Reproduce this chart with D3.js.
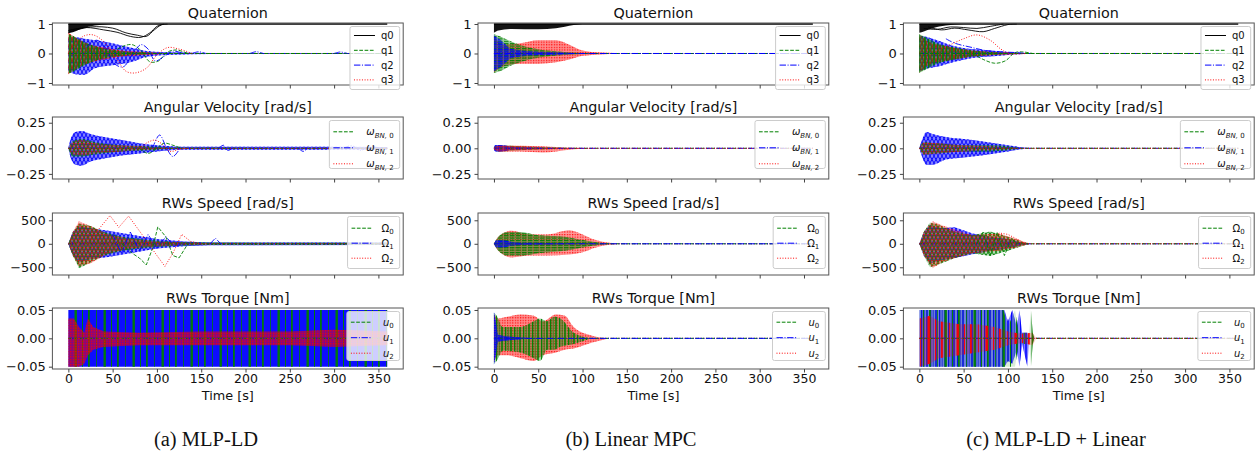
<!DOCTYPE html>
<html lang="en">
<head>
<meta charset="UTF-8">
<title>Trajectories: MLP-LD / Linear MPC / MLP-LD + Linear</title>
<script src="https://cdn.jsdelivr.net/npm/d3@7/dist/d3.min.js"></script>
<style>
  body { margin: 0; background: #fff; }
  text { font-family: "DejaVu Sans", sans-serif; fill: #111; }
</style>
</head>
<body>
<svg width="1258" height="453"></svg>
<script>
// ---------- labels ----------
const captions = ['(a) MLP-LD', '(b) Linear MPC', '(c) MLP-LD + Linear'];
const panelTitles = ['Quaternion', 'Angular Velocity [rad/s]', 'RWs Speed [rad/s]', 'RWs Torque [Nm]'];
const timeTicks = [0, 50, 100, 150, 200, 250, 300, 350];
const yTicks = [[-1, 0, 1], [-0.25, 0, 0.25], [-500, 0, 500], [-0.05, 0, 0.05]];
const tEnd = 360;

// ---------- envelopes: [t, upper, lower] ----------
// (a) MLP-LD
const quatA_q0 = [[0,1,0.68],[5,1,0.72],[15,1,0.84],[30,1,0.95],[45,1,0.99],[60,1,1]];
const quatA_q1 = [[0,0.65,-0.68],[5,0.6,-0.62],[15,0.42,-0.45],[30,0.25,-0.25],[50,0.12,-0.12],[70,0.05,-0.05],[100,0.02,-0.02],[130,0,0]];
const quatA_q2 = [[0,0.55,-0.6],[8,0.55,-0.7],[18,0.5,-0.72],[30,0.45,-0.5],[50,0.35,-0.4],[70,0.2,-0.3],[90,0.08,-0.1],[120,0.04,-0.04],[160,0.02,-0.02],[360,0.01,-0.01]];
const quatA_q3 = [[0,0.7,-0.7],[10,0.5,-0.5],[20,0.35,-0.35],[40,0.2,-0.2],[60,0.1,-0.1],[90,0.04,-0.04],[120,0,0]];
const omegaA_0 = [[0,0,0],[5,0.07,-0.08],[15,0.09,-0.08],[30,0.06,-0.06],[60,0.03,-0.03],[90,0.02,-0.02],[120,0.005,-0.005],[360,0.003,-0.003]];
const omegaA_1 = [[0,0,0],[3,0.1,-0.1],[8,0.16,-0.16],[15,0.17,-0.17],[25,0.14,-0.13],[40,0.11,-0.1],[60,0.08,-0.07],[80,0.05,-0.05],[100,0.03,-0.03],[130,0.015,-0.015],[200,0.015,-0.015],[360,0.012,-0.012]];
const omegaA_2 = [[0,0,0],[5,0.06,-0.06],[15,0.08,-0.07],[30,0.05,-0.05],[60,0.03,-0.03],[90,0.015,-0.015],[120,0,0]];
const speedA_0 = [[0,0,0],[5,250,-250],[12,430,-520],[25,380,-400],[40,250,-250],[60,150,-150],[90,80,-80],[120,40,-40],[150,25,-25],[360,20,-20]];
const speedA_1 = [[0,0,0],[5,250,-250],[12,380,-400],[25,330,-330],[45,280,-280],[70,200,-200],[100,100,-100],[130,50,-50],[160,30,-30],[360,25,-25]];
const speedA_2 = [[0,0,0],[5,250,-250],[12,480,-470],[25,380,-420],[45,200,-200],[70,100,-100],[100,50,-50],[130,20,-20],[180,0,0]];
const torqueA_0 = [[0,0.05,-0.05],[360,0.05,-0.05]];
const torqueA_1 = [[0,0.05,-0.05],[360,0.05,-0.05]];
const torqueA_2 = [[0,0.035,-0.05],[6,0.035,-0.05],[12,0.02,-0.05],[18,0.01,-0.045],[22,0.035,-0.03],[28,0.02,-0.02],[40,0.012,-0.015],[80,0.01,-0.012],[150,0.012,-0.012],[250,0.012,-0.012],[300,0.015,-0.015],[360,0.012,-0.012]];

// (b) Linear MPC
const quatB_q0 = [[0,1,0.7],[5,1,0.78],[20,1,0.83],[50,1,0.82],[70,1,0.86],[90,1,0.97],[100,1,1]];
const quatB_q1 = [[0,0.65,-0.65],[5,0.6,-0.62],[20,0.4,-0.4],[40,0.2,-0.2],[60,0.1,-0.1],[80,0.05,-0.05],[100,0.02,-0.02],[125,0,0]];
const quatB_q2 = [[0,0.62,-0.6],[8,0.45,-0.45],[20,0.15,-0.15],[40,0.08,-0.08],[60,0.05,-0.05],[90,0.02,-0.02],[120,0,0]];
const quatB_q3 = [[0,0.6,-0.65],[10,0.3,-0.45],[30,0.35,-0.35],[50,0.45,-0.35],[70,0.45,-0.3],[85,0.3,-0.2],[100,0.1,-0.08],[120,0.03,-0.03],[150,0,0]];
const omegaB_0 = [[0,0.01,-0.01],[3,0.03,-0.03],[20,0.025,-0.025],[40,0.015,-0.015],[60,0.01,-0.01],[90,0,0]];
const omegaB_1 = [[0,0.015,-0.015],[2,0.033,-0.033],[10,0.03,-0.03],[20,0.015,-0.015],[40,0.008,-0.008],[80,0,0]];
const omegaB_2 = [[0,0.01,-0.01],[5,0.025,-0.03],[30,0.025,-0.03],[55,0.02,-0.04],[70,0.012,-0.03],[90,0.005,-0.01],[110,0,0]];
const speedB_0 = [[0,0,0],[5,150,-150],[15,250,-250],[30,250,-250],[50,180,-200],[80,150,-150],[100,80,-80],[120,20,-20],[140,0,0]];
const speedB_1 = [[0,0,0],[3,80,-80],[10,80,-80],[20,40,-40],[40,20,-20],[80,10,-10],[120,0,0]];
const speedB_2 = [[0,0,0],[5,150,-150],[20,280,-290],[40,200,-250],[60,200,-250],[85,290,-230],[100,200,-180],[115,80,-80],[130,20,-20],[150,0,0]];
const torqueB_0 = [[0,0.045,-0.045],[3,0.04,-0.04],[10,0.02,-0.022],[30,0.02,-0.025],[45,0.03,-0.035],[52,0.035,-0.04],[60,0.03,-0.02],[68,0.038,-0.02],[75,0.035,-0.015],[90,0.01,-0.01],[110,0,0]];
const torqueB_1 = [[0,0.047,-0.047],[2,0.03,-0.03],[5,0.006,-0.006],[20,0.003,-0.003],[60,0,0]];
const torqueB_2 = [[0,0.042,-0.042],[5,0.035,-0.03],[15,0.038,-0.03],[30,0.042,-0.035],[45,0.04,-0.04],[55,0.03,-0.03],[70,0.042,-0.025],[80,0.04,-0.02],[90,0.02,-0.018],[110,0.005,-0.008],[130,0,0]];

// (c) MLP-LD + Linear
const quatC_q0 = [[0,1,0.7],[5,1,0.75],[15,1,0.86],[30,1,0.95],[50,1,1]];
const quatC_q1 = [[0,0.65,-0.65],[10,0.5,-0.5],[20,0.35,-0.35],[40,0.2,-0.2],[60,0.1,-0.1],[80,0.05,-0.05],[100,0.02,-0.02],[120,0,0]];
const quatC_q2 = [[0,0.6,-0.6],[10,0.55,-0.5],[20,0.45,-0.45],[40,0.25,-0.28],[60,0.15,-0.15],[80,0.1,-0.1],[100,0.05,-0.05],[125,0,0]];
const quatC_q3 = [[0,0.65,-0.65],[10,0.4,-0.4],[30,0.25,-0.25],[60,0.1,-0.1],[100,0.03,-0.03],[130,0,0]];
const omegaC_0 = [[0,0,0],[5,0.06,-0.06],[20,0.05,-0.05],[50,0.03,-0.03],[80,0.03,-0.03],[100,0.02,-0.02],[115,0,0]];
const omegaC_1 = [[0,0,0],[3,0.08,-0.08],[8,0.16,-0.16],[15,0.14,-0.16],[30,0.11,-0.11],[50,0.09,-0.09],[70,0.07,-0.07],[85,0.05,-0.05],[100,0.03,-0.03],[115,0.01,-0.01],[125,0,0]];
const omegaC_2 = [[0,0,0],[5,0.06,-0.06],[20,0.05,-0.05],[50,0.03,-0.03],[80,0.02,-0.02],[100,0.01,-0.01],[115,0,0]];
const speedC_0 = [[0,0,0],[5,250,-250],[12,450,-500],[20,420,-450],[40,250,-300],[60,180,-200],[80,260,-260],[100,150,-150],[115,50,-50],[125,0,0]];
const speedC_1 = [[0,0,0],[5,250,-250],[12,400,-420],[25,330,-350],[40,350,-300],[60,220,-220],[80,150,-150],[100,100,-100],[115,30,-30],[125,0,0]];
const speedC_2 = [[0,0,0],[5,250,-250],[15,480,-520],[25,400,-400],[40,300,-300],[60,180,-200],[90,220,-150],[110,100,-80],[125,0,0]];
const torqueC_0 = [[0,0.05,-0.05],[95,0.05,-0.05],[100,0.02,-0.05],[108,0.05,-0.05],[112,0.01,-0.01],[124,0.01,-0.01],[126,0.05,-0.05],[128,0.01,-0.01],[130,0,0]];
const torqueC_1 = [[0,0.05,-0.05],[96,0.05,-0.05],[100,0.03,-0.04],[105,0.05,-0.045],[110,0.02,-0.02],[113,0.05,-0.05],[116,0.01,-0.01],[122,0.01,-0.05],[124,0,0]];
const torqueC_2 = [[0,0.035,-0.05],[12,0.04,-0.045],[22,0.03,-0.035],[45,0.025,-0.03],[65,0.025,-0.025],[85,0.02,-0.02],[100,0.012,-0.012],[115,0.008,-0.008],[128,0.01,-0.012],[132,0,0]];

// ---------- single stand-out trajectories: [t, value] ----------
const quatA_q0_runs = [
  [[0,0.78],[20,0.88],[40,0.8],[55,0.72],[70,0.58],[82,0.55],[92,0.7],[100,0.92],[108,1]],
  [[0,0.72],[25,0.9],[50,0.86],[65,0.7],[78,0.62],[88,0.58],[97,0.8],[105,0.97],[112,1]]];
const quatA_q1_runs = [[[50,0.05],[62,0.25],[72,0.3],[82,0.1],[92,-0.28],[102,-0.25],[112,0.05],[122,0.12],[135,0]]];
const quatA_q2_runs = [
  [[20,0.2],[32,0.45],[42,0.2],[52,-0.35],[62,-0.45],[72,-0.05],[82,0.3],[90,0.15],[98,-0.25],[108,-0.1],[118,0.08],[130,0]],
  [[140,0],[147,0.06],[155,0]], [[205,0],[212,0.06],[220,0]], [[300,0],[307,0.05],[315,0]]];
const quatA_q3_runs = [[[0,0],[8,0.35],[18,0.6],[28,0.63],[40,0.4],[55,-0.2],[65,-0.6],[75,-0.66],[88,-0.5],[100,-0.05],[112,0.2],[125,0.15],[140,0]]];
const omegaA_0_runs = [[[80,0],[90,-0.05],[100,0],[108,0.05],[118,0.03],[128,0]]];
const omegaA_1_runs = [[[95,0],[103,0.13],[111,0],[118,-0.08],[126,0]], [[170,0],[175,0.03],[180,-0.02],[185,0]], [[260,0],[265,-0.03],[270,0]], [[310,0],[320,0.025],[330,-0.02],[340,0.02],[350,0]]];
const omegaA_2_runs = [[[80,0],[90,0.06],[98,0.08],[106,0.04],[115,-0.03],[125,-0.01],[135,0]]];
const speedA_0_runs = [[[60,0],[72,-200],[80,-300],[88,-450],[95,-100],[101,360],[110,150],[118,-250],[125,-300],[135,0]]];
const speedA_1_runs = [[[50,200],[60,-200],[70,250],[80,-150],[90,200],[100,-100],[110,150],[120,-50],[130,0]], [[160,0],[166,120],[172,0]]];
const speedA_2_runs = [[[25,100],[47,600],[57,350],[68,590],[85,150],[100,-250],[109,-480],[118,-200],[128,200],[138,50],[150,0]]];
const quatC_q0_runs = [[[10,0.9],[25,0.8],[40,0.86],[55,0.8],[72,0.74],[85,0.85],[100,0.98],[110,1]], [[5,0.85],[20,0.82],[35,0.9],[50,0.88],[65,0.85],[80,0.92],[95,1]]];
const quatC_q1_runs = [[[60,0],[72,-0.2],[85,-0.33],[97,-0.25],[108,0.03],[118,0.05],[128,0]]];
const quatC_q2_runs = [[[30,0.5],[40,0.35],[60,0.2],[75,0.1],[95,0.05],[110,0.03],[120,0]]];
const quatC_q3_runs = [[[20,0.1],[35,0.3],[50,0.5],[65,0.63],[80,0.45],[92,0.15],[102,0],[120,0]]];
const speedC_0_runs = [[[65,0],[72,250],[80,-250],[88,250],[96,-250],[104,100],[112,0]]];
const speedC_2_runs = [[[80,0],[90,230],[100,200],[110,100],[120,0]]];

// ---------- layout ----------
const svg = d3.select('svg');
const colLeft = [52.4, 478, 903.4];
const colWidth = 350.8;
const captionX = [206, 631, 1056];
const rowBox = [[23, 85], [117, 179], [213, 275], [308, 369]];
const yDomains = [[-1.068, 1.034], [-0.3, 0.306], [-664, 655], [-0.0541, 0.0535]];
const tickFmt = [d3.format('d'), d3.format('.2f'), d3.format('d'), d3.format('.2f')];

const K = '#000000', G = '#008000', B = '#0000ff', R = '#ff0000';
const colorOf = { k: K, g: G, b: B, r: R };
const lineStyle = {
  k: { dash: null },
  g: { dash: '3.7,1.6' },
  b: { dash: '6.4,1.6,1,1.6' },
  r: { dash: '1,1.65' }
};

// [series, envelope, texture, base opacity]
const panels = [
  [
    { bands: [['b', quatA_q2, 'mesh', 0.45], ['r', quatA_q3, 'mesh', 0.3], ['g', quatA_q1, 'stripe', 0.35]], q0: quatA_q0,
      runs: [['k', quatA_q0_runs], ['g', quatA_q1_runs], ['b', quatA_q2_runs], ['r', quatA_q3_runs]] },
    { bands: [['b', omegaA_1, 'mesh', 0.5], ['g', omegaA_0, 'mesh', 0.2], ['r', omegaA_2, 'dots', 0.15]],
      runs: [['g', omegaA_0_runs], ['b', omegaA_1_runs], ['r', omegaA_2_runs]] },
    { bands: [['b', speedA_1, 'mesh', 0.45], ['g', speedA_0, 'mesh', 0.3], ['r', speedA_2, 'dots', 0.2]],
      runs: [['g', speedA_0_runs], ['b', speedA_1_runs], ['r', speedA_2_runs]], sharp: true },
    { bands: [['b', torqueA_1, 'solid', 0.95], ['g', torqueA_0, 'sparse', 0], ['r', torqueA_2, 'dots', 0.5]], runs: [], sharp: true }
  ],
  [
    { bands: [['r', quatB_q3, 'dots', 0.45], ['g', quatB_q1, 'hline', 0.4], ['b', quatB_q2, 'hline', 0.4]], q0: quatB_q0, runs: [] },
    { bands: [['g', omegaB_0, 'hline', 0.4], ['b', omegaB_1, 'hline', 0.6], ['r', omegaB_2, 'dots', 0.4]], runs: [] },
    { bands: [['r', speedB_2, 'dots', 0.4], ['g', speedB_0, 'hline', 0.45], ['b', speedB_1, 'hline', 0.5]], runs: [] },
    { bands: [['r', torqueB_2, 'dots', 0.45], ['g', torqueB_0, 'stripe', 0.35], ['b', torqueB_1, 'hline', 0.6]], runs: [] }
  ],
  [
    { bands: [['b', quatC_q2, 'mesh', 0.45], ['r', quatC_q3, 'mesh', 0.3], ['g', quatC_q1, 'stripe', 0.35]], q0: quatC_q0,
      runs: [['k', quatC_q0_runs], ['g', quatC_q1_runs], ['b', quatC_q2_runs], ['r', quatC_q3_runs]] },
    { bands: [['b', omegaC_1, 'mesh', 0.5], ['g', omegaC_0, 'mesh', 0.2], ['r', omegaC_2, 'dots', 0.15]], runs: [] },
    { bands: [['b', speedC_1, 'mesh', 0.45], ['g', speedC_0, 'mesh', 0.3], ['r', speedC_2, 'dots', 0.2]],
      runs: [['g', speedC_0_runs], ['r', speedC_2_runs]], sharp: true },
    { bands: [['b', torqueC_1, 'stripe', 0.5], ['g', torqueC_0, 'sparse', 0.15], ['r', torqueC_2, 'sparse', 0.2]], runs: [], sharp: true }
  ]
];

// legend entries per row
const legends = [
  { keys: ['k', 'g', 'b', 'r'], labels: [['q0'], ['q1'], ['q2'], ['q3']], step: 14.8, first: 9, h: 63, gap: 6 },
  { keys: ['g', 'b', 'r'], labels: [['ω', 'BN,', '0'], ['ω', 'BN,', '1'], ['ω', 'BN,', '2']], step: 16, first: 11.3, h: 48, italic: true, gap: 12 },
  { keys: ['g', 'b', 'r'], labels: [['Ω', '', '0'], ['Ω', '', '1'], ['Ω', '', '2']], step: 15, first: 11.7, h: 52, gap: 9 },
  { keys: ['g', 'b', 'r'], labels: [['u', '', '0'], ['u', '', '1'], ['u', '', '2']], step: 15.5, first: 10.7, h: 49, italic: true, gap: 11 }
];

// ---------- textures standing in for hundreds of overlaid runs ----------
const defs = svg.append('defs');
const patternShift = { g: 0, b: 2, r: 4 };
const sparseShift = { g: 0, b: 5, r: 12 };
[['g', G], ['b', B], ['r', R]].forEach(([k, c]) => {
  const sh = patternShift[k];
  const m = defs.append('pattern').attr('id', 'mesh-' + k)
    .attr('width', 4).attr('height', 7).attr('patternUnits', 'userSpaceOnUse')
    .attr('patternTransform', `translate(${sh},${sh})`);
  m.append('path').attr('d', 'M0,0L4,7M4,0L0,7').attr('stroke', c).attr('stroke-width', 1);

  const s = defs.append('pattern').attr('id', 'stripe-' + k)
    .attr('width', 9).attr('height', 4).attr('patternUnits', 'userSpaceOnUse')
    .attr('patternTransform', `translate(${sh},0)`);
  [[1, 1.3], [3.8, 0.7], [6.2, 1.6]].forEach(([x, w]) =>
    s.append('rect').attr('x', x).attr('y', 0).attr('width', w).attr('height', 4).attr('fill', c));

  const p = defs.append('pattern').attr('id', 'sparse-' + k)
    .attr('width', 29).attr('height', 4).attr('patternUnits', 'userSpaceOnUse')
    .attr('patternTransform', `translate(${sparseShift[k]},0)`);
  [[1, 1.8], [9, 0.8], [16.5, 2.4], [24, 1]].forEach(([x, w]) =>
    p.append('rect').attr('x', x).attr('y', 0).attr('width', w).attr('height', 4).attr('fill', c));

  const h = defs.append('pattern').attr('id', 'hline-' + k)
    .attr('width', 6).attr('height', 2.4).attr('patternUnits', 'userSpaceOnUse')
    .attr('patternTransform', `translate(0,${sh / 2})`);
  h.append('rect').attr('x', 0).attr('y', 0).attr('width', 4.5).attr('height', 1.1).attr('fill', c);

  const d = defs.append('pattern').attr('id', 'dots-' + k)
    .attr('width', 2.6).attr('height', 2.6).attr('patternUnits', 'userSpaceOnUse');
  d.append('rect').attr('x', 0).attr('y', 0).attr('width', 1.2).attr('height', 1.2).attr('fill', c);
});

panels.forEach((col, ci) => {
  const x = d3.scaleLinear().domain([-18, 378]).range([colLeft[ci], colLeft[ci] + colWidth]);

  col.forEach((panel, ri) => {
    const [top, bottom] = rowBox[ri];
    const y = d3.scaleLinear().domain(yDomains[ri]).range([bottom, top]);
    const g = svg.append('g');
    const clipId = `clip-${ci}-${ri}`;
    defs.append('clipPath').attr('id', clipId).append('rect')
      .attr('x', colLeft[ci]).attr('y', top).attr('width', colWidth).attr('height', bottom - top);
    const plot = g.append('g').attr('clip-path', `url(#${clipId})`);

    const area = d3.area().x(d => x(d[0])).y1(d => y(d[1])).y0(d => y(d[2]))
      .curve(panel.sharp ? d3.curveLinear : d3.curveMonotoneX);
    const line = d3.line().x(d => x(d[0])).y(d => y(d[1]))
      .curve(panel.sharp ? d3.curveLinear : d3.curveCatmullRom);

    // q0 bundle and its settled value
    if (panel.q0) {
      plot.append('path').datum(panel.q0).attr('d', area).attr('fill', K).attr('fill-opacity', 0.92);
      plot.append('path').datum([[0, 1], [tEnd, 1]]).attr('d', line)
        .attr('stroke', K).attr('stroke-width', 1.3).attr('fill', 'none');
    }

    // dense bundles
    panel.bands.forEach(([k, band, kind, base]) => {
      const c = colorOf[k];
      if (base > 0) {
        plot.append('path').datum(band).attr('d', area).attr('fill', c).attr('fill-opacity', base);
      }
      if (kind !== 'solid') {
        plot.append('path').datum(band).attr('d', area).attr('fill', `url(#${kind}-${k})`)
          .attr('fill-opacity', 0.95);
      }
    });

    // settled trajectories at zero
    panel.bands.forEach(([k]) => {
      plot.append('path').datum([[0, 0], [tEnd, 0]]).attr('d', line)
        .attr('stroke', colorOf[k]).attr('stroke-width', 1).attr('fill', 'none')
        .attr('stroke-dasharray', lineStyle[k].dash);
    });

    // individual stand-out runs
    panel.runs.forEach(([k, runs]) => {
      runs.forEach(run => {
        plot.append('path').datum(run).attr('d', line)
          .attr('stroke', colorOf[k]).attr('stroke-width', 0.9).attr('fill', 'none')
          .attr('stroke-dasharray', lineStyle[k].dash);
      });
    });

    // frame
    g.append('rect').attr('x', colLeft[ci]).attr('y', top).attr('width', colWidth).attr('height', bottom - top)
      .attr('fill', 'none').attr('stroke', '#555').attr('stroke-width', 1);

    // y axis
    const yAxis = d3.axisLeft(y).tickValues(yTicks[ri]).tickFormat(tickFmt[ri]).tickSize(3.5).tickPadding(3);
    const ya = g.append('g').attr('transform', `translate(${colLeft[ci]},0)`).call(yAxis);
    ya.select('.domain').remove();
    ya.selectAll('text').attr('font-size', 13).attr('font-family', '"DejaVu Sans", sans-serif').attr('fill', '#111');
    ya.selectAll('line').attr('stroke', '#444');

    // x axis
    const xAxis = d3.axisBottom(x).tickValues(timeTicks).tickSize(3.5).tickPadding(2)
      .tickFormat(ri === 3 ? d3.format('d') : () => '');
    const xa = g.append('g').attr('transform', `translate(0,${bottom})`).call(xAxis);
    xa.select('.domain').remove();
    xa.selectAll('text').attr('font-size', 12.5).attr('font-family', '"DejaVu Sans", sans-serif').attr('fill', '#111');
    xa.selectAll('line').attr('stroke', '#444');

    // title
    g.append('text').attr('x', colLeft[ci] + colWidth / 2).attr('y', top - 5)
      .attr('text-anchor', 'middle').attr('font-size', 14.3).text(panelTitles[ri]);

    // legend
    const lg = legends[ri];
    const right = colLeft[ci] + colWidth - 3.5;
    const lgTop = top + 3.5;
    const leg = g.append('g');
    const box = leg.append('rect').attr('y', lgTop).attr('height', lg.h).attr('rx', 2)
      .attr('fill', '#fff').attr('fill-opacity', 0.8).attr('stroke', '#ccc').attr('stroke-width', 1);
    const texts = [];
    lg.keys.forEach((k, i) => {
      const yy = lgTop + lg.first + i * lg.step;
      const [m, sub, idx] = lg.labels[i];
      const t = leg.append('text').attr('y', yy + 3.5).attr('font-size', 10);
      t.append('tspan').attr('font-style', lg.italic ? 'italic' : null).text(m);
      if (idx !== undefined) {
        if (sub) t.append('tspan').attr('font-size', 7).attr('dy', 2.5).attr('font-style', 'italic').text(sub);
        t.append('tspan').attr('font-size', 7).attr('dy', sub ? 0 : 2.5).text((sub ? ' ' : '') + idx);
      }
      texts.push({ t, yy, k });
    });
    const tw = d3.max(texts, d => d.t.node().getComputedTextLength());
    const textX = right - 6 - tw;
    const lineX1 = textX - lg.gap, lineX0 = lineX1 - 21;
    box.attr('x', lineX0 - 4).attr('width', right - lineX0 + 4);
    texts.forEach(({ t, yy, k }) => {
      t.attr('x', textX);
      leg.append('line').attr('x1', lineX0).attr('x2', lineX1).attr('y1', yy).attr('y2', yy)
        .attr('stroke', colorOf[k]).attr('stroke-width', 1).attr('stroke-dasharray', lineStyle[k].dash);
    });
  });

  // x label and caption
  svg.append('text').attr('x', colLeft[ci] + colWidth / 2).attr('y', 400)
    .attr('text-anchor', 'middle').attr('font-size', 12.8).text('Time [s]');
  svg.append('text').attr('x', captionX[ci]).attr('y', 446).attr('text-anchor', 'middle')
    .style('font-family', '"Liberation Serif", "Times New Roman", serif').attr('font-size', 20.5)
    .text(captions[ci]);
});
</script>
</body>
</html>
